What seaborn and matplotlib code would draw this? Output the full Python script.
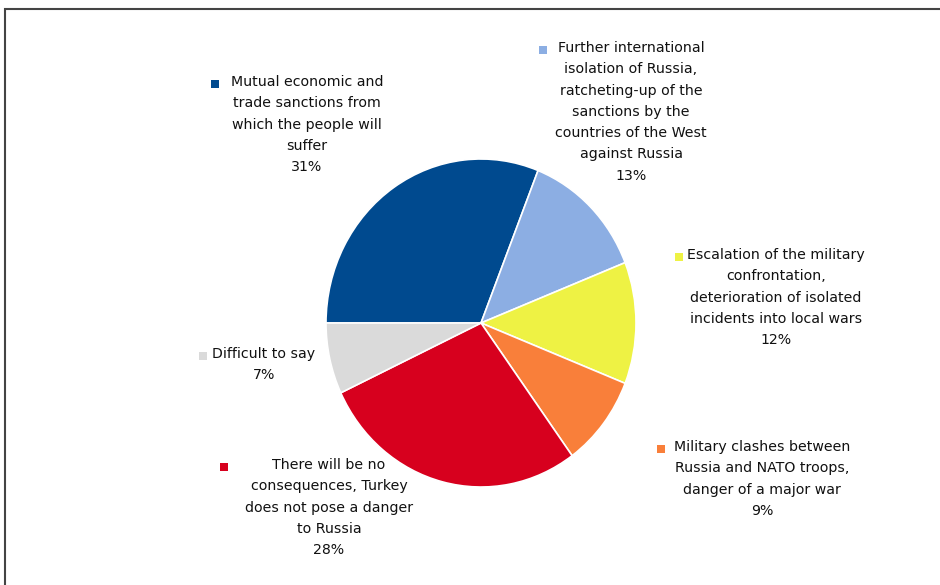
import matplotlib
matplotlib.use("Agg")
import matplotlib.pyplot as plt
import matplotlib.patches as mpatches
import seaborn as sns

# data (clockwise from 9 o'clock)
labels = [
    "Mutual economic and\ntrade sanctions from\nwhich the people will\nsuffer",
    "Further international\nisolation of Russia,\nratcheting-up of the\nsanctions by the\ncountries of the West\nagainst Russia",
    "Escalation of the military\nconfrontation,\ndeterioration of isolated\nincidents into local wars",
    "Military clashes between\nRussia and NATO troops,\ndanger of a major war",
    "There will be no\nconsequences, Turkey\ndoes not pose a danger\nto Russia",
    "Difficult to say",
]
values = [31, 13, 12, 9, 28, 7]
colors = ["#004A8F", "#8CAEE3", "#EEF244", "#F97F3A", "#D7001E", "#DADADA"]

# layout (pixel coords, y from top): text centre x, first line y, marker x
label_pos = [(307, 83, 215), (631, 49, 543), (776, 256, 679),
             (762, 448, 661), (329, 466, 224), (264, 355, 203)]

W, H = 940, 585
sns.set_theme(style="white")
plt.rcParams["font.family"] = ["Liberation Sans Narrow", "DejaVu Sans"]

fig = plt.figure(figsize=(W / 100, H / 100), dpi=100)
ax = fig.add_axes([0, 0, 1, 1])
ax.set_xlim(0, W)
ax.set_ylim(0, H)
ax.axis("off")

# pie box in pixels: left 326, right 636, top 159, bottom 487 (slightly tall)
pl, pr, pt, pb = 326, 636, 159, 487
pax = fig.add_axes([pl / W, 1 - pb / H, (pr - pl) / W, (pb - pt) / H])
pax.pie(values, colors=colors, startangle=180, counterclock=False,
        radius=1, wedgeprops=dict(edgecolor="white", linewidth=1.2))
pax.set_aspect("auto")
pax.set_xlim(-1, 1)
pax.set_ylim(-1, 1)
pax.axis("off")

for lab, val, col, (cx, y0, mx) in zip(labels, values, colors, label_pos):
    txt = lab + f"\n{val}%"
    ax.text(cx, H - y0 + 8, txt, ha="center", va="top", fontsize=10.2,
            linespacing=1.66, color="#111111")
    ax.scatter([mx], [H - y0 - 1], marker="s", s=28, color=col, linewidths=0)

# frame around the chart
fig.patches.append(mpatches.Rectangle((5 / W, -0.01), 1.0, 1 - 9 / H + 0.01,
                                      transform=fig.transFigure, fill=False,
                                      edgecolor="#444444", linewidth=1.5))

fig.savefig("out.png", dpi=100)
